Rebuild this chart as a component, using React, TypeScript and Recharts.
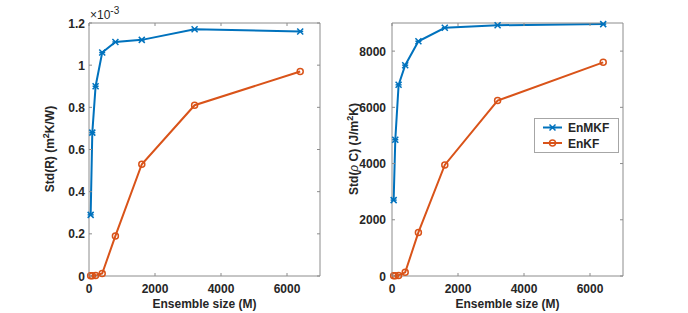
import { LineChart, Line, XAxis, YAxis } from 'recharts';

const ensembleSizes = [50, 100, 200, 400, 800, 1600, 3200, 6400];
// left panel, values in units of 1e-3 m^2K/W
const stdREnMKF = [0.29, 0.68, 0.9, 1.06, 1.11, 1.12, 1.17, 1.16];
const stdREnKF = [0.001, 0.001, 0.002, 0.012, 0.19, 0.53, 0.81, 0.97];
// right panel, J/m^2K
const stdRhoCEnMKF = [2700, 4850, 6800, 7500, 8350, 8830, 8920, 8960];
const stdRhoCEnKF = [10, 10, 20, 130, 1550, 3950, 6240, 7600];

const xTicks = [0, 2000, 4000, 6000];
const leftYTicks = [0, 0.2, 0.4, 0.6, 0.8, 1, 1.2];
const rightYTicks = [0, 2000, 4000, 6000, 8000];

const BLUE = '#0072BD';
const ORANGE = '#D95319';
const AXIS = '#8c8c8c';
const TEXT = '#262626';
const FONT = '"Liberation Sans", Arial, Helvetica, sans-serif';

const leftData = ensembleSizes.map((m, i) => ({ m, enmkf: stdREnMKF[i], enkf: stdREnKF[i] }));
const rightData = ensembleSizes.map((m, i) => ({ m, enmkf: stdRhoCEnMKF[i], enkf: stdRhoCEnKF[i] }));

function XMark({ cx, cy, color }: { cx: number; cy: number; color: string }) {
  const s = 3;
  return (
    <g stroke={color} strokeWidth={1.5}>
      <line x1={cx - s} y1={cy - s} x2={cx + s} y2={cy + s} />
      <line x1={cx - s} y1={cy + s} x2={cx + s} y2={cy - s} />
      <line x1={cx - s} y1={cy} x2={cx + s} y2={cy} />
    </g>
  );
}

function OMark({ cx, cy, color }: { cx: number; cy: number; color: string }) {
  return <circle cx={cx} cy={cy} r={3} fill="none" stroke={color} strokeWidth={1.5} />;
}

const fmtLeft = (v: number) => String(Math.round(v * 10) / 10);
const fmtRight = (v: number) => String(v);

// inward tick + label, MATLAB style
function bottomTick(props: any) {
  const { x, y, payload } = props;
  return (
    <g>
      <line x1={x} y1={y} x2={x} y2={y - 3} stroke={AXIS} />
      <text x={x} y={y + 17} textAnchor="middle" fontSize={12} fontWeight="bold" fill={TEXT} fontFamily={FONT}>
        {payload.value}
      </text>
    </g>
  );
}

function makeLeftTick(fmt: (v: number) => string, gap: number) {
  return (props: any) => {
    const { x, y, payload } = props;
    return (
      <g>
        <line x1={x} y1={y} x2={x + 3} y2={y} stroke={AXIS} />
        <text x={x - gap} y={y + 4.5} textAnchor="end" fontSize={12} fontWeight="bold" fill={TEXT} fontFamily={FONT}>
          {fmt(payload.value)}
        </text>
      </g>
    );
  };
}

function topTick(props: any) {
  const { x, y } = props;
  return <line x1={x} y1={y} x2={x} y2={y + 3} stroke={AXIS} />;
}

function rightTick(props: any) {
  const { x, y } = props;
  return <line x1={x} y1={y} x2={x - 3} y2={y} stroke={AXIS} />;
}

function xTitle(props: any) {
  const { x, y, width } = props.viewBox;
  return (
    <text x={x + width / 2} y={y + 32} textAnchor="middle" fontSize={12} fontWeight="bold" fill={TEXT} fontFamily={FONT}>
      Ensemble size (M)
    </text>
  );
}

function LegendBox() {
  return (
    <svg width={86} height={36} style={{ display: 'block' }}>
      <rect x={0.5} y={0.5} width={84} height={34} fill="#fff" stroke="#a6a6a6" />
      <line x1={9} y1={9.5} x2={28} y2={9.5} stroke={BLUE} strokeWidth={2} />
      <XMark cx={18.5} cy={9.5} color={BLUE} />
      <text x={34} y={14} fontSize={12} fontWeight="bold" fill={TEXT} fontFamily={FONT}>EnMKF</text>
      <line x1={9} y1={25} x2={28} y2={25} stroke={ORANGE} strokeWidth={2} />
      <OMark cx={18.5} cy={25} color={ORANGE} />
      <text x={34} y={29.5} fontSize={12} fontWeight="bold" fill={TEXT} fontFamily={FONT}>EnKF</text>
    </svg>
  );
}

interface PanelProps {
  data: { m: number; enmkf: number; enkf: number }[];
  width: number;
  yAxisWidth: number;
  rightMargin: number;
  yDomain: [number, number];
  yTicks: number[];
  fmt: (v: number) => string;
  tickGap: number;
  yTitle: (props: any) => any;
}

function Panel({ data, width, yAxisWidth, rightMargin, yDomain, yTicks, fmt, tickGap, yTitle }: PanelProps) {
  return (
    <LineChart width={width} height={313} data={data} margin={{ top: 22, right: rightMargin - 1, bottom: 0, left: 0 }}>
      <XAxis
        dataKey="m"
        type="number"
        domain={[0, 7000]}
        ticks={xTicks}
        height={37}
        stroke={AXIS}
        tickSize={0}
        tickMargin={0}
        tickLine={false}
        tick={bottomTick}
        label={{ content: xTitle }}
      />
      <XAxis
        xAxisId="top"
        dataKey="m"
        type="number"
        orientation="top"
        domain={[0, 7000]}
        ticks={xTicks}
        height={1}
        stroke={AXIS}
        tickSize={0}
        tickMargin={0}
        tickLine={false}
        tick={topTick}
      />
      <YAxis
        type="number"
        domain={yDomain}
        ticks={yTicks}
        width={yAxisWidth}
        stroke={AXIS}
        tickSize={0}
        tickMargin={0}
        tickLine={false}
        tick={makeLeftTick(fmt, tickGap)}
        label={{ content: yTitle }}
      />
      <YAxis
        yAxisId="right"
        type="number"
        orientation="right"
        domain={yDomain}
        ticks={yTicks}
        width={1}
        stroke={AXIS}
        tickSize={0}
        tickMargin={0}
        tickLine={false}
        tick={rightTick}
      />
      {/* invisible series so the top/right box axes get drawn */}
      <Line
        xAxisId="top"
        yAxisId="right"
        dataKey="enmkf"
        stroke="none"
        dot={false}
        activeDot={false}
        legendType="none"
        isAnimationActive={false}
      />
      <Line
        dataKey="enmkf"
        name="EnMKF"
        stroke={BLUE}
        strokeWidth={2}
        isAnimationActive={false}
        dot={(p: any) => <XMark key={`x${p.index}`} cx={p.cx} cy={p.cy} color={BLUE} />}
      />
      <Line
        dataKey="enkf"
        name="EnKF"
        stroke={ORANGE}
        strokeWidth={2}
        isAnimationActive={false}
        dot={(p: any) => <OMark key={`o${p.index}`} cx={p.cx} cy={p.cy} color={ORANGE} />}
      />
    </LineChart>
  );
}

function leftYTitle(props: any) {
  const { x } = props.viewBox;
  const cx = x + 54;
  const cy = 149;
  return (
    <g fontFamily={FONT} fill={TEXT}>
      <text transform={`translate(${cx},${cy}) rotate(-90)`} textAnchor="middle" fontSize={12} fontWeight="bold">
        Std(R) (m<tspan dy={-5} fontSize={9}>2</tspan>
        <tspan dy={5}>K/W)</tspan>
      </text>
      <text x={x + 90} y={19} fontSize={12}>
        ×10<tspan dy={-5} fontSize={10}>-3</tspan>
      </text>
    </g>
  );
}

function rightYTitle(props: any) {
  const { x } = props.viewBox;
  const cx = x + 18;
  const cy = 149;
  return (
    <text transform={`translate(${cx},${cy}) rotate(-90)`} textAnchor="middle" fontSize={12} fontWeight="bold" fill={TEXT} fontFamily={FONT}>
      Std(<tspan fontStyle="italic" fontWeight="normal">ρ</tspan> C) (J/m<tspan dy={-5} fontSize={9}>2</tspan>
      <tspan dy={5}>K)</tspan>
    </text>
  );
}

export default function App() {
  return (
    <div style={{ position: 'absolute', left: 0, top: 0, width: 688, height: 313, background: '#fff' }}>
      <div style={{ position: 'absolute', left: 0, top: 0 }}>
        <Panel
          data={leftData}
          width={340}
          yAxisWidth={89}
          rightMargin={20}
          yDomain={[0, 1.2]}
          yTicks={leftYTicks}
          fmt={fmtLeft}
          tickGap={4}
          yTitle={leftYTitle}
        />
      </div>
      <div style={{ position: 'absolute', left: 340, top: 0 }}>
        <Panel
          data={rightData}
          width={348}
          yAxisWidth={52}
          rightMargin={65}
          yDomain={[0, 9000]}
          yTicks={rightYTicks}
          fmt={fmtRight}
          tickGap={6}
          yTitle={rightYTitle}
        />
      </div>
      <div style={{ position: 'absolute', left: 534, top: 118 }}>
        <LegendBox />
      </div>
    </div>
  );
}
